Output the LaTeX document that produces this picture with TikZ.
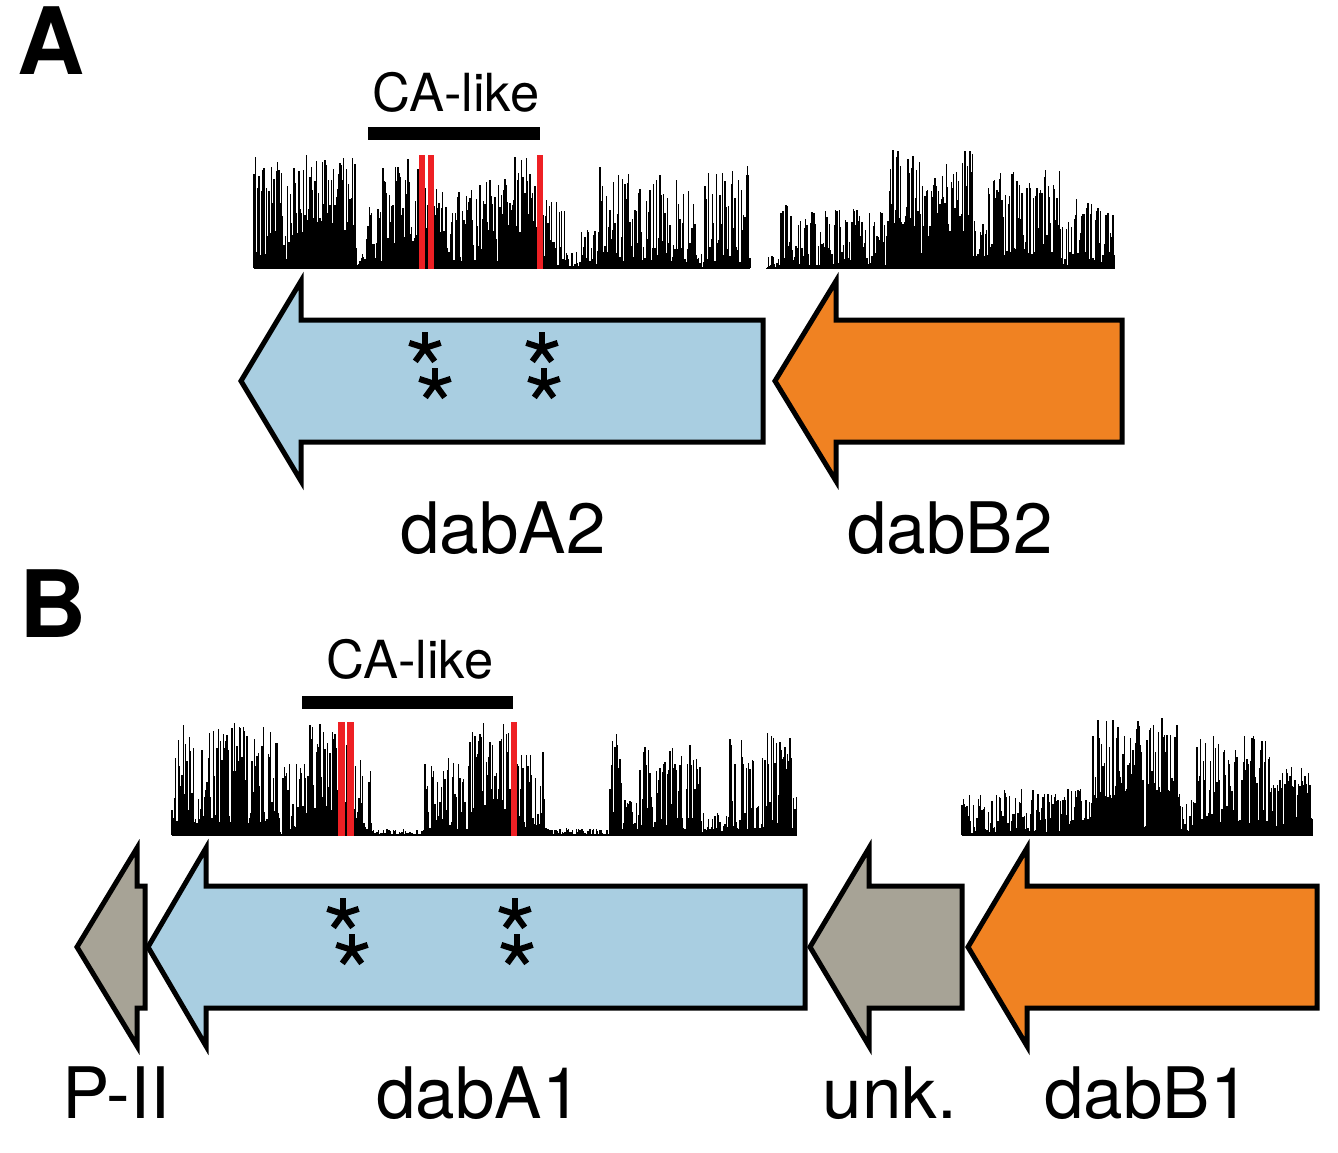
\documentclass[tikz,border=0pt]{standalone}
\usepackage{fontspec}
\setmainfont{TeX Gyre Heros}
\definecolor{geneblue}{HTML}{A9CEE1}
\definecolor{geneorange}{HTML}{F08222}
\definecolor{genegray}{HTML}{A7A396}
\definecolor{sitered}{HTML}{EE2024}
\tikzset{
  genebody/.style={draw=black,line width=5pt,line join=miter},
  barline/.style={line width=1.1pt,black},
  starspoke/.style={line width=6pt,black},
  calbar/.style={line width=13pt,black},
  lbl/.style={anchor=base,inner sep=0pt,font=\fontsize{71}{71}\selectfont},
  calbl/.style={anchor=base,inner sep=0pt,font=\fontsize{52.5}{52.5}\selectfont},
  panel/.style={anchor=base west,inner sep=0pt,font=\fontsize{93}{93}\selectfont\bfseries},
}
% bars: x0 x1 lo hi baseline H
\newcommand\barseg[6]{%
  \pgfmathtruncatemacro\nn{(#2-#1)/1.25}%
  \foreach \k in {0,...,\nn}{%
    \pgfmathsetmacro\xx{#1+1.25*\k}%
    \pgfmathsetmacro\uu{rnd}%
    \pgfmathsetmacro\vv{rnd}%
    \pgfmathsetmacro\ff{\uu<0.38 ? 0.65+0.35*\vv : 0.8*\vv*(0.35+0.65*\vv)}%
    \pgfmathsetmacro\hh{#6*(#3+(#4-#3)*\ff)}%
    \draw[barline] (\xx,#5) -- ++(0,-\hh);
  }%
}
% left-pointing gene arrow: tip x, head base x, right x, center y, half head, half body, colour
\newcommand\gene[7]{%
  \path[genebody,fill=#7] (#1,#4) -- (#2,#4-#5) -- (#2,#4-#6) -- (#3,#4-#6)
     -- (#3,#4+#6) -- (#2,#4+#6) -- (#2,#4+#5) -- cycle;
}
\newcommand\astr[2]{%
  \foreach \ang in {-90,-18,-162,54,126}{\draw[starspoke] (#1,#2) -- ++(\ang:16.5);}%
}
\begin{document}
\begin{tikzpicture}[x=1pt,y=-1pt]
\useasboundingbox (0,0) rectangle (1338,1153);
% ---------- Panel A ----------
\node[panel] (labA) at (17,75) {A};
\node[calbl] (caA) at (456,112) {CA-like};
\draw[calbar] (368,133.5) -- (540,133.5);
\pgfmathsetseed{1234}
\foreach \a/\b/\lo/\hi in {254/300/0.05/1.0, 300/355/0.3/1.0, 355/368/0.02/0.3, 368/383/0.05/0.6,
  383/419/0.2/1.0, 419/434/0.3/1.0, 434/470/0.05/0.7, 470/510/0.05/0.8, 510/543/0.3/1.0,
  543/565/0.02/0.6, 565/580/0.01/0.15, 580/600/0.03/0.4, 600/625/0.05/0.9, 625/660/0.05/0.85,
  660/695/0.05/0.8, 695/705/0.01/0.15, 705/750/0.05/0.95}{\barseg{\a}{\b}{\lo}{\hi}{268}{113}}
\foreach \a/\b/\lo/\hi in {767/781/0.0/0.1, 781/797/0.05/0.6, 797/888/0.02/0.5, 888/920/0.35/1.0,
  920/945/0.1/0.8, 945/973/0.3/1.0, 973/987/0.05/0.4, 987/1060/0.1/0.85, 1060/1073/0.02/0.4,
  1073/1115/0.02/0.6}{\barseg{\a}{\b}{\lo}{\hi}{268}{118}}
\draw[line width=1.5pt] (254,268) -- (750,268);
\draw[line width=1.5pt] (767,268) -- (1115,268);
\fill[sitered] (419,155) rectangle (425,269);
\fill[sitered] (428,155) rectangle (434,269);
\fill[sitered] (537,155) rectangle (543,269);
\gene{241}{301}{763}{381}{100}{61}{geneblue}
\gene{775}{836}{1122}{381}{100}{61}{geneorange}
\astr{425}{348}\astr{435}{384}\astr{542}{348}\astr{544}{384}
\node[lbl] (dabA2) at (503,553) {dabA2};
\node[lbl] (dabB2) at (950,553) {dabB2};
% ---------- Panel B ----------
\node[panel] (labB) at (19,637) {B};
\node[calbl] (caB) at (410,678) {CA-like};
\draw[calbar] (302,702) -- (513,702);
\foreach \a/\b/\lo/\hi in {172/277/0.1/1.0, 277/283/0.0/0.2, 283/310/0.05/0.7, 310/354/0.2/1.0,
  354/372/0.05/0.8, 372/425/0.0/0.05, 425/470/0.05/0.7, 470/518/0.2/1.0, 518/545/0.02/0.8,
  545/610/0.0/0.06, 610/625/0.05/0.9, 625/640/0.02/0.3, 640/700/0.05/0.8, 700/730/0.02/0.2,
  730/797/0.05/0.9}{\barseg{\a}{\b}{\lo}{\hi}{835}{113}}
\foreach \a/\b/\lo/\hi in {962/993/0.02/0.35, 993/1093/0.02/0.4, 1093/1143/0.3/1.0, 1143/1147/0.05/0.3,
  1147/1180/0.3/1.0, 1180/1197/0.02/0.3, 1197/1270/0.1/0.85, 1270/1313/0.02/0.6}{\barseg{\a}{\b}{\lo}{\hi}{835}{117}}
\draw[line width=1.5pt] (172,835) -- (797,835);
\draw[line width=1.5pt] (962,835) -- (1313,835);
\fill[sitered] (338,722) rectangle (345,836);
\fill[sitered] (347,722) rectangle (354,836);
\fill[sitered] (511,722) rectangle (517,836);
\gene{77}{137}{145}{947}{99}{61}{genegray}
\gene{148}{206}{805}{947}{99}{61}{geneblue}
\gene{810}{869}{962}{947}{99}{61}{genegray}
\gene{968}{1027}{1317}{947}{99}{61}{geneorange}
\astr{343}{914}\astr{352}{950}\astr{515}{914}\astr{517}{950}
\node[lbl] (p2) at (116,1118) {P-II};
\node[lbl] (dabA1) at (479,1118) {dabA1};
\node[lbl] (unk) at (890,1118) {unk.};
\node[lbl] (dabB1) at (1147,1118) {dabB1};
\end{tikzpicture}
\end{document}
